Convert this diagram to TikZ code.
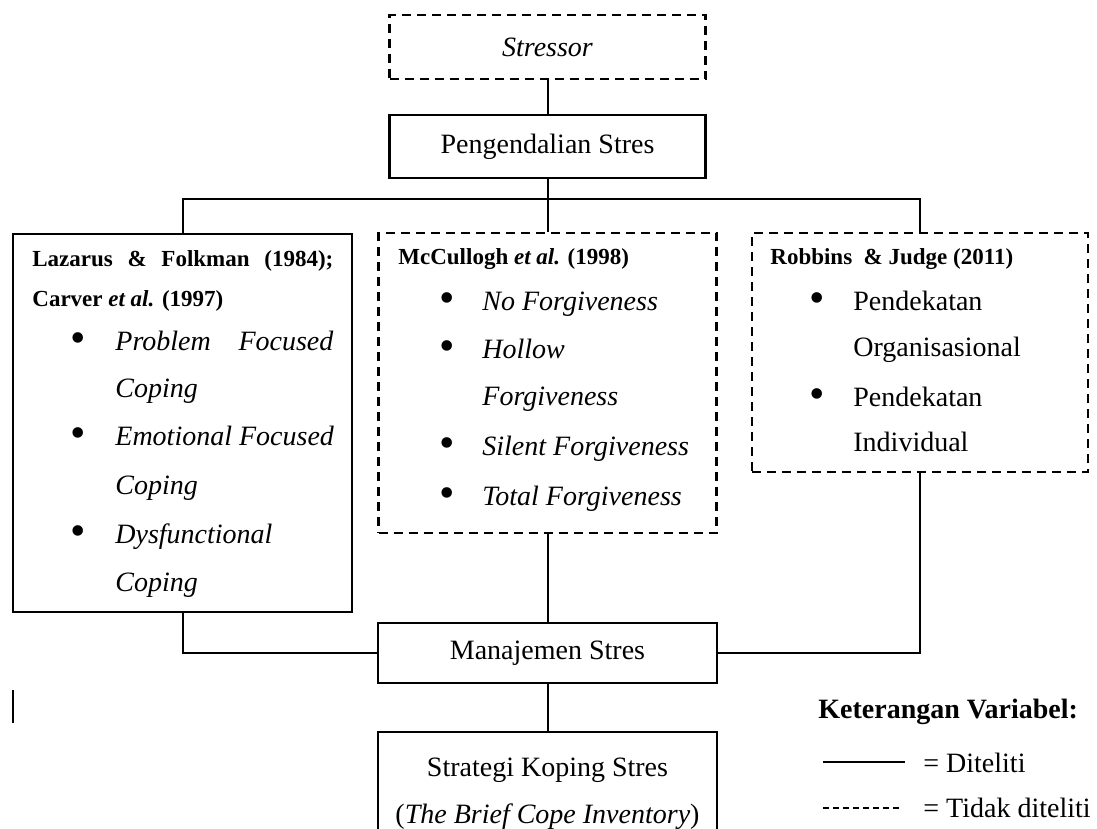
\documentclass[tikz,border=0pt]{standalone}
\usepackage{fontspec}
\setmainfont{Liberation Serif}
\begin{document}
\begin{tikzpicture}[x=0.5pt,y=-0.5pt,
  solidbox/.style={draw, line width=1.1pt, inner sep=0pt},
  dashbox/.style={draw, line width=1.1pt, dash pattern=on 4.5pt off 3pt, inner sep=0pt},
  link/.style={line width=1pt},
  main/.style={font=\fontsize{14}{16}\selectfont, inner sep=0pt},
  item/.style={font=\fontsize{14}{16}\selectfont\itshape, anchor=base west, inner sep=0pt},
  itemup/.style={font=\fontsize{14}{16}\selectfont, anchor=base west, inner sep=0pt},
  head/.style={font=\fontsize{11.5}{13}\selectfont\bfseries, anchor=base west, inner sep=0pt},
  bul/.style={font=\fontsize{22}{24}\selectfont, anchor=center, inner sep=0pt},
]
\useasboundingbox (0,0) rectangle (1097,829);
\clip (0,0) rectangle (1097,829);

% top boxes
\node[dashbox, minimum width=158pt, minimum height=32pt, font=\fontsize{14}{16}\selectfont\itshape] (stressor) at (547.5,47) {Stressor};
\node[solidbox, main, minimum width=158pt, minimum height=31.5pt] (peng) at (547.5,146.5) {Pengendalian Stres};

% three boxes
\node[solidbox, minimum width=169.5pt, minimum height=189pt] (lbox) at (182.5,423) {};
\node[dashbox, minimum width=169pt, minimum height=150pt] (mbox) at (547.5,383) {};
\node[dashbox, minimum width=168pt, minimum height=119.5pt] (rbox) at (920,352.5) {};

% left box text
\node[head] (lz1) at (32,266) {\makebox[150.5pt][s]{Lazarus \& Folkman (1984);}};
\node[head] (lz2) at (32,306) {Carver \textit{et al.} (1997)};
\node[bul] (lb1) at (78,343) {•};
\node[item] (li1) at (115,350) {\makebox[109pt][s]{Problem Focused}};
\node[item] (li1b) at (115,397) {Coping};
\node[bul] (lb2) at (78,438) {•};
\node[item] (li2) at (115,445) {Emotional Focused};
\node[item] (li2b) at (115,494) {Coping};
\node[bul] (lb3) at (78,536) {•};
\node[item] (li3) at (115,543) {Dysfunctional};
\node[item] (li3b) at (115,591) {Coping};

% middle box text
\node[head] (mc) at (398,264) {McCullogh \textit{et al.} (1998)};
\node[bul] (mb1) at (447,303) {•};
\node[item] (mi1) at (482,310) {No Forgiveness};
\node[bul] (mb2) at (447,351) {•};
\node[item] (mi2) at (482,358) {Hollow};
\node[item] (mi2b) at (482,405) {Forgiveness};
\node[bul] (mb3) at (447,448) {•};
\node[item] (mi3) at (482,455) {Silent Forgiveness};
\node[bul] (mb4) at (447,498) {•};
\node[item] (mi4) at (482,505) {Total Forgiveness};

% right box text
\node[head] (rj) at (770,264) {Robbins \ \& Judge (2011)};
\node[bul] (rb1) at (817,303) {•};
\node[itemup] (ri1) at (853,310) {Pendekatan};
\node[itemup] (ri1b) at (853,356) {Organisasional};
\node[bul] (rb2) at (817,399) {•};
\node[itemup] (ri2) at (853,406) {Pendekatan};
\node[itemup] (ri2b) at (853,451) {Individual};

% bottom boxes
\node[solidbox, main, minimum width=169.5pt, minimum height=30pt] (man) at (547.5,653) {Manajemen Stres};
\node[solidbox, minimum width=169.5pt, minimum height=68pt] (strat) at (547.5,800) {};
\node[main] (s1) at (547.5,770) {Strategi Koping Stres};
\node[main] (s2) at (547.5,817) {(\textit{The Brief Cope Inventory})};

% connectors
\coordinate (bus) at (547.5,199);
\draw[link] (stressor) -- (peng);
\draw[link] (peng.south) -- (bus);
\draw[link] (lbox.north) |- (bus) -| (rbox.north);
\draw[link] (bus) -- (mbox.north);
\draw[link] (lbox.south) |- (man.west);
\draw[link] (rbox.south) |- (man.east);
\draw[link] (mbox.south) -- (man.north);
\draw[link] (man.south) -- (strat.north);

% stray bar
\coordinate (bar1) at (13,690);
\coordinate (bar2) at (13,723);
\draw[line width=0.8pt] (bar1) -- (bar2);

% legend
\node[font=\fontsize{14}{16}\selectfont\bfseries, anchor=base west, inner sep=0pt] (ket) at (818,718) {Keterangan Variabel:};
\coordinate (l1a) at (823,762);
\coordinate (l1b) at (905,762);
\draw[link] (l1a) -- (l1b);
\node[itemup] (d1) at (923,772) {= Diteliti};
\coordinate (l2a) at (823,808);
\coordinate (l2b) at (902,808);
\draw[link, dash pattern=on 3pt off 2pt] (l2a) -- (l2b);
\node[itemup] (d2) at (923,817) {= Tidak diteliti};
\end{tikzpicture}
\end{document}
